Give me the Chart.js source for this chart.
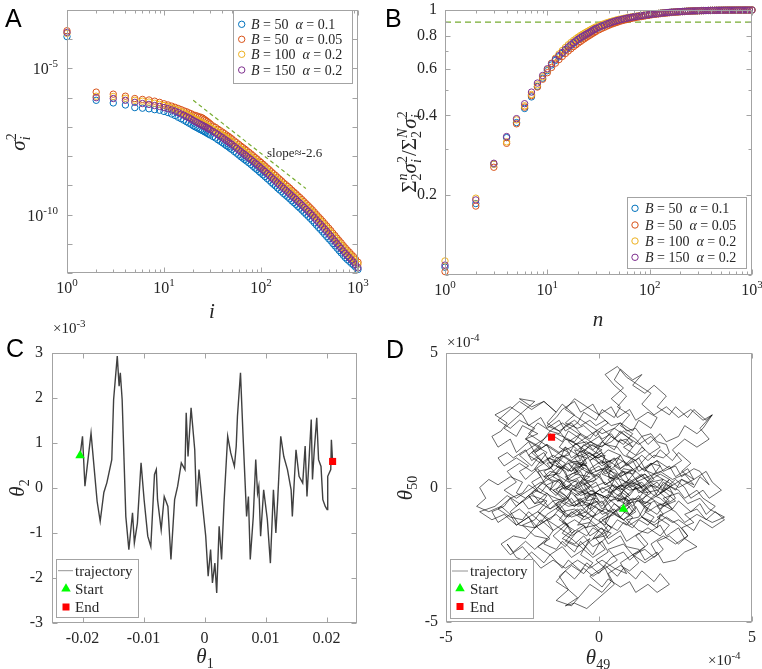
<!DOCTYPE html>
<html><head><meta charset="utf-8">
<script src="https://cdn.jsdelivr.net/npm/chart.js@4.4.1/dist/chart.umd.min.js"></script>
<style>
html,body{margin:0;padding:0;background:#fff;overflow:hidden}
body{width:762px;height:669px;position:relative}
canvas{position:absolute}
</style></head><body>
<canvas id="cA" width="381" height="360" style="left:0;top:-20px"></canvas>
<canvas id="cB" width="395" height="360" style="left:381px;top:-20px"></canvas>
<canvas id="cC" width="381" height="349" style="left:0;top:320px"></canvas>
<canvas id="cD" width="395" height="349" style="left:381px;top:320px"></canvas>
<script>
// ---------------- DATA ----------------
const seriesLabels = [['50','0.1'],['50','0.05'],['100','0.2'],['150','0.2']];
const idx = [1,2,3,4,5,6,7,8,9,10,11,12,13,14,15,16,17,18,19,
20,21,22,23,24,25,26,27,28,29,30,32,34,36,38,40,42,44,46,48,50,53,56,59,62,65,68,71,75,79,83,
87,91,96,100,105,110,116,122,128,134,141,148,155,163,171,180,189,198,208,218,
229,240,252,265,278,292,307,322,338,355,373,392,411,432,453,476,500,525,551,579,
608,638,670,704,739,776,815,856,899,944,1000];
// panel A: log10(sigma_i^2)
const sigBlue = [-3.91,-6.09,-6.18,-6.25,-6.34,-6.36,-6.38,-6.41,-6.43,-6.47,-6.51,-6.56,-6.61,-6.67,-6.72,-6.77,-6.82,-6.87,-6.91,
-6.96,-7.00,-7.03,-7.07,-7.10,-7.13,-7.16,-7.19,-7.22,-7.25,-7.28,-7.33,-7.38,-7.44,-7.49,-7.54,-7.59,-7.64,-7.68,-7.73,-7.77,
-7.84,-7.90,-7.96,-8.02,-8.07,-8.12,-8.17,-8.23,-8.29,-8.35,-8.41,-8.46,-8.53,-8.58,-8.64,-8.70,-8.77,-8.83,-8.90,-8.96,
-9.02,-9.09,-9.15,-9.21,-9.28,-9.34,-9.40,-9.46,-9.53,-9.59,-9.65,-9.72,-9.78,-9.85,-9.92,-9.99,-10.06,-10.13,-10.20,-10.28,
-10.36,-10.44,-10.51,-10.59,-10.67,-10.75,-10.83,-10.90,-10.99,-11.07,-11.15,-11.23,-11.31,-11.39,-11.47,-11.54,-11.60,-11.67,-11.73,-11.80,-11.88];
const sigOrange = [-3.71,-5.81,-5.88,-5.95,-6.03,-6.06,-6.08,-6.12,-6.16,-6.21,-6.25,-6.29,-6.33,-6.37,-6.41,-6.45,-6.48,-6.52,-6.55,
-6.59,-6.61,-6.63,-6.66,-6.67,-6.70,-6.74,-6.78,-6.82,-6.86,-6.90,-6.97,-7.02,-7.08,-7.13,-7.18,-7.23,-7.28,-7.32,-7.37,-7.41,
-7.48,-7.54,-7.60,-7.66,-7.71,-7.76,-7.81,-7.87,-7.93,-7.99,-8.05,-8.10,-8.17,-8.22,-8.28,-8.34,-8.41,-8.47,-8.54,-8.60,
-8.66,-8.73,-8.79,-8.85,-8.92,-8.98,-9.04,-9.10,-9.17,-9.23,-9.29,-9.36,-9.42,-9.49,-9.56,-9.63,-9.70,-9.77,-9.84,-9.92,
-10.00,-10.08,-10.15,-10.23,-10.31,-10.39,-10.47,-10.55,-10.64,-10.72,-10.81,-10.89,-10.97,-11.06,-11.14,-11.22,-11.29,-11.37,-11.44,-11.53,-11.63];
const sigYellow = [-3.80,-5.95,-5.96,-6.02,-6.09,-6.12,-6.15,-6.19,-6.23,-6.27,-6.31,-6.35,-6.39,-6.44,-6.48,-6.52,-6.57,-6.61,-6.65,
-6.70,-6.74,-6.77,-6.81,-6.84,-6.87,-6.90,-6.93,-6.96,-6.99,-7.02,-7.07,-7.12,-7.18,-7.23,-7.28,-7.33,-7.38,-7.42,-7.47,-7.51,
-7.58,-7.64,-7.70,-7.76,-7.81,-7.86,-7.91,-7.97,-8.03,-8.09,-8.15,-8.20,-8.27,-8.32,-8.38,-8.44,-8.51,-8.57,-8.64,-8.70,
-8.76,-8.83,-8.89,-8.95,-9.02,-9.08,-9.14,-9.20,-9.27,-9.33,-9.39,-9.46,-9.52,-9.59,-9.66,-9.73,-9.79,-9.86,-9.93,-10.01,
-10.08,-10.16,-10.23,-10.31,-10.39,-10.47,-10.55,-10.63,-10.72,-10.80,-10.89,-10.97,-11.05,-11.14,-11.22,-11.30,-11.37,-11.45,-11.52,-11.61,-11.70];
const sigPurple = [-3.77,-6.00,-6.03,-6.09,-6.16,-6.20,-6.23,-6.27,-6.30,-6.34,-6.38,-6.42,-6.46,-6.51,-6.56,-6.60,-6.65,-6.69,-6.73,
-6.78,-6.82,-6.85,-6.89,-6.92,-6.95,-6.98,-7.01,-7.04,-7.07,-7.10,-7.16,-7.21,-7.27,-7.32,-7.37,-7.42,-7.47,-7.51,-7.56,-7.60,
-7.67,-7.73,-7.79,-7.85,-7.90,-7.95,-8.00,-8.06,-8.12,-8.18,-8.24,-8.29,-8.36,-8.41,-8.47,-8.53,-8.60,-8.66,-8.73,-8.79,
-8.85,-8.92,-8.98,-9.04,-9.11,-9.17,-9.23,-9.29,-9.36,-9.42,-9.48,-9.55,-9.61,-9.68,-9.75,-9.82,-9.89,-9.96,-10.03,-10.11,
-10.19,-10.27,-10.34,-10.42,-10.50,-10.58,-10.66,-10.74,-10.83,-10.91,-11.00,-11.08,-11.16,-11.25,-11.33,-11.41,-11.48,-11.56,-11.63,-11.72,-11.82];
const slopeI = [20, 290];
const slopeLog = [-6.09, -9.11];
// panel B: cumulative fraction
const cumBlue = [0.107,0.186,0.262,0.330,0.376,0.425,0.470,0.515,0.553,0.590,0.620,0.645,0.666,0.686,0.704,0.720,0.735,0.748,0.760,
0.771,0.781,0.790,0.798,0.806,0.813,0.821,0.829,0.836,0.843,0.849,0.859,0.868,0.875,0.883,0.889,0.895,0.900,0.905,0.910,0.914,
0.919,0.924,0.928,0.932,0.935,0.938,0.941,0.945,0.948,0.951,0.954,0.956,0.959,0.961,0.963,0.966,0.968,0.970,0.972,0.974,
0.976,0.978,0.979,0.981,0.982,0.984,0.985,0.986,0.987,0.988,0.989,0.990,0.991,0.992,0.9925,0.993,0.994,0.9945,0.995,0.9955,
0.996,0.9965,0.997,0.9972,0.9975,0.998,0.9982,0.9985,0.9987,0.999,0.9991,0.9992,0.9993,0.9994,0.9995,0.9996,0.9997,0.9998,0.9999,0.9999,1.0];
const cumOrange = [0.103,0.182,0.255,0.314,0.372,0.430,0.475,0.512,0.548,0.580,0.607,0.630,0.650,0.668,0.685,0.700,0.714,0.727,0.739,
0.750,0.760,0.770,0.779,0.788,0.796,0.803,0.811,0.818,0.825,0.831,0.842,0.852,0.860,0.869,0.876,0.883,0.889,0.894,0.899,0.904,
0.910,0.915,0.920,0.924,0.928,0.932,0.935,0.939,0.942,0.945,0.948,0.951,0.954,0.957,0.960,0.962,0.965,0.967,0.969,0.971,
0.973,0.975,0.977,0.979,0.980,0.982,0.983,0.985,0.986,0.987,0.989,0.990,0.991,0.992,0.9925,0.993,0.994,0.9945,0.995,0.9955,
0.996,0.9965,0.997,0.9972,0.9975,0.998,0.9982,0.9985,0.9987,0.999,0.9991,0.9992,0.9993,0.9994,0.9995,0.9996,0.9997,0.9998,0.9999,0.9999,1.0];
const cumYellow = [0.113,0.195,0.262,0.318,0.385,0.435,0.480,0.522,0.560,0.596,0.630,0.658,0.682,0.703,0.722,0.739,0.754,0.767,0.779,
0.790,0.800,0.809,0.817,0.825,0.832,0.839,0.846,0.852,0.858,0.864,0.873,0.881,0.888,0.895,0.900,0.905,0.910,0.914,0.918,0.922,
0.926,0.930,0.934,0.937,0.940,0.943,0.946,0.949,0.951,0.954,0.956,0.958,0.960,0.962,0.964,0.967,0.969,0.971,0.973,0.975,
0.976,0.978,0.979,0.981,0.982,0.984,0.985,0.986,0.987,0.988,0.989,0.990,0.991,0.992,0.9925,0.993,0.994,0.9945,0.995,0.9955,
0.996,0.9965,0.997,0.9972,0.9975,0.998,0.9982,0.9985,0.9987,0.999,0.9991,0.9992,0.9993,0.9994,0.9995,0.9996,0.9997,0.9998,0.9999,0.9999,1.0];
const cumPurple = [0.109,0.192,0.264,0.333,0.389,0.443,0.490,0.530,0.566,0.600,0.628,0.652,0.673,0.692,0.710,0.726,0.740,0.753,0.765,
0.776,0.786,0.795,0.803,0.811,0.818,0.825,0.833,0.840,0.847,0.853,0.863,0.872,0.878,0.886,0.892,0.898,0.903,0.908,0.912,0.916,
0.921,0.926,0.930,0.934,0.937,0.940,0.943,0.946,0.949,0.952,0.954,0.956,0.959,0.961,0.963,0.966,0.968,0.970,0.972,0.974,
0.976,0.978,0.979,0.981,0.982,0.984,0.985,0.986,0.987,0.988,0.989,0.990,0.991,0.992,0.9925,0.993,0.994,0.9945,0.995,0.9955,
0.996,0.9965,0.997,0.9972,0.9975,0.998,0.9982,0.9985,0.9987,0.999,0.9991,0.9992,0.9993,0.9994,0.9995,0.9996,0.9997,0.9998,0.9999,0.9999,1.0];
const threshold = 0.9;
// panel C: trajectory (theta1, theta2 in units of 1e-3)
const thetaC1 = [-0.0204,-0.0200,-0.0196,-0.0186,-0.0176,-0.0171,-0.0165,-0.0160,-0.0152,-0.0149,-0.0143,-0.0140,-0.0138,-0.0135,-0.0129,-0.0124,-0.0118,-0.0115,-0.0110,-0.0104,-0.0099,-0.0093,-0.0088,-0.0082,-0.0079,-0.0077,-0.0071,-0.0066,-0.0060,-0.0055,-0.0049,-0.0044,-0.0038,-0.0032,-0.0030,-0.0027,-0.0022,-0.0016,-0.0013,-0.0009,-0.0003,0.0002,0.0006,0.0010,0.0013,0.0017,0.0020,0.0024,0.0028,0.0032,0.0038,0.0043,0.0049,0.0052,0.0054,0.0059,0.0063,0.0069,0.0072,0.0075,0.0080,0.0084,0.0087,0.0089,0.0092,0.0097,0.0103,0.0108,0.0113,0.0117,0.0120,0.0125,0.0130,0.0136,0.0142,0.0144,0.0150,0.0155,0.0161,0.0165,0.0168,0.0172,0.0175,0.0177,0.0180,0.0184,0.0187,0.0191,0.0194,0.0198,0.0201,0.0202,0.0207,0.0208,0.0210];
const thetaC2 = [0.72,1.15,0.04,1.22,-0.30,-0.74,-0.10,0.12,0.63,1.96,2.93,2.26,2.56,1.96,-0.63,-1.37,-0.55,-1.22,-0.78,0.56,-0.26,-1.07,-1.30,0.30,0.41,-0.26,-0.93,-0.19,-0.41,-1.59,-0.26,0.04,0.56,0.41,1.67,0.70,1.78,0.85,-0.41,0.41,-0.41,-1.07,-1.96,-1.37,-2.11,-1.67,-2.33,-0.85,-1.59,-0.33,1.15,0.78,0.48,0.93,1.59,2.56,1.22,-0.63,-0.19,-1.59,-0.63,0.63,-0.11,0.04,-1.07,-0.04,-0.70,-1.67,-0.04,-1.00,-0.26,1.15,0.70,0.41,-0.04,-0.63,0.85,0.26,0.11,0.93,-0.19,0.78,1.52,0.19,0.85,1.56,0.63,0.48,-0.26,-0.41,-0.48,0.26,0.41,1.07,0.59];
// panel D: trajectory (theta49, theta50 in units of 1e-5, i.e. tenths of the 1e-4 axis unit)
const thetaD49 = [8,10,7,9,5,3,6,2,4,0,-2,1,-3,-5,-8,-6,-10,-7,-11,-9,
-13,-10,-14,-12,-8,-5,-7,-3,0,-2,2,4,1,5,8,11,9,13,16,14,
18,21,19,23,20,24,21,17,15,12,14,10,7,4,1,-2,-5,-8,-6,-10,
-13,-16,-19,-17,-21,-24,-27,-25,-29,-33,-36,-39,-37,-40,-36,-32,-29,-26,-23,-20,
-17,-14,-11,-9,-12,-8,-5,-2,1,3,-1,2,-2,-5,-8,-11,-14,-10,-7,-11,
-8,-4,-1,2,5,3,7,10,13,11,15,18,21,19,23,26,29,27,31,28,
32,35,38,41,37,33,31,26,24,20,19,14,12,10,5,3,1,-3,-1,-5,
-7,-3,-8,-5,-10,-12,-16,-18,-22,-19,-24,-20,-25,-27,-31,-27,-25,-21,-26,-22,
-18,-14,-12,-8,-11,-7,-5,-1,1,5,7,11,8,12,14,18,20,24,26,30,
27,31,26,23,19,15,13,9,12,8,6,2,0,-4,-6,-3,-7,-11,-13,-16,
-18,-22,-19,-23,-25,-29,-26,-21,-19,-15,-18,-14,-12,-8,-6,-2,0,4,0,-4,
-7,-3,1,3,7,9,13,15,19,21,25,27,31,33,36,33,31,27,25,21,
19,15,13,9,7,3,1,-3,-5,-9,-11,-15,-17,-21,-23,-27,-29,-33,-35,-32,
-30,-34,-29,-25,-23,-19,-17,-13,-11,-7,-5,-1,1,5,7,4,8,5,7,11,
14,11,15,18,22,19,23,25,29,31,35,37,34,32,28,26,22,20,16,14,
11,7,5,1,-1,-5,-7,-11,-13,-17,-14,-18,-20,-24,-26,-23,-27,-31,-33,-30,
-28,-24,-22,-18,-16,-12,-10,-6,-4,0,2,6,8,12,14,18,20,24,26,30,
33,35,38,34,32,28,26,22,20,16,14,10,8,4,2,-2,-4,-8,-10,-14,
-16,-20,-22,-26,-22,-18,-16,-12,-10,-6,-4,0,2,6,8,12,14,18,15,11,
9,5,3,-1,-3,-7,-9,-13,-15,-19,-21,-25,-21,-17,-21,-24,-28,-30,-27,-25,
-22,-18,-16,-12,-10,-6,-4,0,2,6,8,12,14,18,20,23,19,16,12,10,
7,3,1,-3,1,4,8,10,14,16,13,9,7,3,1,-3,-5,-9,-11,-15,
-17,-21,-23,-27,-29,-33,-35,-31,-29,-25,-23,-19,-17,-13,-11,-7,-5,-1,1,5,
7,11,13,17,19,23,25,21,19,15,13,9,13,16,20,22,26,28,32,28,
25,21,19,15,13,9,7,3,1,-3,-5,-9,-11,-15,-11,-8,-4,-2,2,4,
7,3,1,-3,-5,-9,-11,-15,-11,-14,-18,-20,-16,-14,-10,-8,-4,-2,2,4,
7,11,13,17,19,16,12,10,6,4,0,-2,-6,-8,-12,-14,-17,-13,-11,-7,
-5,-1,1,5,7,11,13,17,19,23,25,29,31,35,37,40,36,34,30,28,
25,21,19,15,13,9,7,3,1,-3,-5,-9,-11,-15,-17,-21,-23,-27,-29,-33,
-29,-25,-23,-19,-17,-13,-11,-7,-5,-1,1,5,7,10,
8,11,9,6,4,2,3,0,-2,-4,-3,-6,-8,-10,-9,-12,-14,-16,-15,-18,
-16,-13,-11,-9,-7,-4,-6,-3,-1,2,1,4,3,6,8,11,13,15,17,20,
18,21,19,16,14,12,10,8,6,3,1,-1,-4,-5,-8,-7,-10,-11,-14,-12,
-10,-13,-11,-8,-6,-3,-1,1,4,6,9,11,9,12,14,16,18,21,23,22,
19,17,14,12,9,7,4,2,-1,-3,-6,-8,-11,-13,-16,-18,-20,-17,-19,-21,
-19,-22,-20,-23,-21,-18,-16,-13,-11,-13,-10,-12,-9,-7,-4,-2,1,3,6,8,
11,13,16,18,15,17,14,16,13,11,9,7,5,2,0,-2,-5,-3,-6,-4,
-7,-9,-12,-14,-17,-15,-18,-16,-13,-11,-9,-6,-4,-1,1,4,6,9,11,13,
15,18,20,22,24,21,23,20,17,15,12,10,7,5,2,0,-3,-5,-8,-10,
-13,-15,-12,-14,-11,-9,-6,-4,-1,1,3,5,8,10,12,11,9,8,6,7,
6,10,7,3,5,1,4,-1,-3,1,-2,-6,-4,-8,-5,-9,-6,-2,0,
-4,-1,-5,-9,-12,-8,-11,-7,-3,-6,-2,-5,-9,-13,-10,-14,-9,-6,-3,1,
4,2,6,3,8,11,15,12,16,20,23,19,24,21,26,29,33,36,41,37,
32,28,25,20,16,13,17,14,10,7,11,8,4,1,-3,-1,-5,-3,-7,-4,
-9,-13,-16,-20,-17,-22,-26,-30,-34,-39,-35,-31,-27,-23,-20,-16,-20,-16,-12,-9,
-5,-2,2,-1,3,0,4,8,12,9,5,2,-2,-6,-10,-14,-11,-15,-19,-23,
-20,-24,-21,-26,-29,-33,-29,-26,-22,-18,-14,-17,-13,-9,-6,-10,-7,-3,1,4,
8,11,7,10,6,9,5,2,6,9,13,17,14,18,22,26,30,34,37,33,
36,32,28,24,27,23,19,15,18,14,10,6,3,-1,-4,-8,-12,-9,-5,-8,
-4,0,3,7,5,9,13,16,20,17,13,9,5,1,-3,-7,-11,-8,-4,0,
3,-1,-5,-9,-13,-17,-21,-18,-22,-26,-30,-27,-31,-27,-23,-19,-15,-11,-14,-10,
-6,-2,2,6,10,14,18,22,26,29,25,21,17,19,15,11,7,9,5,1,
-3,-7,-11,-15,-19,-22,-25,-29,-32,-28,-24,-21,-17,-13,-9,-5,-1,3,7,11,
15,19,23,27,31,28,24,20,16,12,8,4,0,-4,-8,-12,-16,-20,-17,-13,
-9,-5,-1,3,7,11,15,12,8,4,0,-4,-8,-12,-16,-20,-23,-19,-15,-11,
-7,-3,1,5,9,13,17,21,25,22,18,14,10,6,2,-2,-6,-10,-14,-15.5];
const thetaD50 = [-8,-5,-3,1,0,3,5,7,10,9,12,14,16,13,14,10,9,6,4,1,
-1,-4,-6,-9,-8,-11,-14,-13,-16,-19,-18,-15,-12,-10,-12,-9,-6,-5,-8,-11,
-13,-10,-7,-5,-2,1,3,2,5,3,0,-1,1,-2,0,-3,-1,-3,-6,-7,
-5,-8,-6,-3,-1,-4,-2,2,4,1,3,0,-4,-7,-9,-7,-10,-8,-11,-9,
-12,-10,-13,-16,-19,-21,-18,-22,-20,-24,-27,-30,-33,-30,-34,-31,-35,-38,-41,-44,
-43,-45,-42,-39,-36,-32,-29,-31,-28,-25,-23,-26,-23,-20,-18,-21,-18,-15,-13,-10,
-8,-12,-9,-12,-15,-12,-16,-12,-13,-10,-15,-11,-7,-10,-6,-9,-5,-8,-3,-2,
1,4,5,9,10,7,11,9,13,15,18,20,23,19,22,26,28,32,33,30,
32,28,31,27,24,22,23,19,22,18,21,17,15,12,15,11,14,10,13,9,
6,3,0,3,-1,-2,1,2,6,7,4,8,4,6,2,0,-3,0,3,-1,
2,-2,-6,-8,-5,-9,-14,-15,-12,-16,-21,-23,-20,-24,-20,-25,-21,-17,-15,-11,
-10,-6,-9,-5,-4,-7,-3,-6,-2,2,-1,3,0,4,1,6,7,4,8,6,
10,7,11,8,12,8,13,10,14,11,15,11,16,13,17,13,18,15,19,21,
24,27,30,27,23,26,22,25,21,24,28,25,29,26,30,33,37,40,44,40,
42,38,35,38,34,30,27,30,26,29,25,27,22,20,23,19,17,20,16,19,
15,18,14,17,13,16,12,15,10,9,5,4,7,3,6,8,11,8,11,13,
11,14,10,13,9,7,3,6,2,5,1,4,0,3,1,-3,-4,-8,-5,-9,
-6,-10,-7,-4,-1,-4,-1,1,-2,2,5,2,6,3,7,4,8,9,6,10,
7,11,8,12,15,18,20,17,21,18,16,19,16,15,12,10,7,5,1,-1,
-3,0,-4,-2,-6,-7,-4,-8,-5,-9,-12,-14,-18,-19,-23,-20,-24,-21,-26,-27,
-24,-28,-25,-30,-27,-31,-28,-32,-29,-33,-30,-34,-31,-35,-32,-36,-39,-36,-39,-35,
-37,-34,-37,-33,-30,-26,-24,-27,-23,-21,-17,-20,-16,-19,-15,-18,-14,-17,-13,-16,
-12,-15,-11,-14,-10,-13,-9,-7,-4,-2,1,-2,1,3,0,3,-1,2,-2,1,
-1,2,-2,1,-3,0,-4,-7,-10,-7,-11,-12,-16,-17,-14,-18,-15,-19,-22,-24,
-27,-28,-24,-27,-23,-22,-18,-21,-17,-20,-23,-19,-22,-18,-14,-12,-15,-11,-14,-10,
-8,-4,-7,-3,-6,-2,-5,-1,1,5,2,6,7,11,12,16,17,14,18,21,
24,21,25,22,26,28,25,29,26,30,27,31,28,32,29,26,23,21,18,16,
13,10,8,11,7,10,6,9,5,8,4,7,3,6,2,-1,-4,-1,-4,0,
3,-1,2,-1,-4,-5,-2,-6,-3,-1,2,-1,-4,-5,-2,-6,-3,-7,-4,-8,
-11,-12,-9,-13,-10,-7,-11,-8,-11,-7,-10,-8,-11,-7,
-9,-11,-14,-12,-15,-13,-10,-8,-11,-9,-6,-5,-7,-4,-1,0,-3,-1,2,4,
6,5,8,6,9,8,11,13,11,12,9,7,4,3,6,5,8,6,9,8,
5,3,0,1,-2,0,-3,-1,-4,-3,-6,-4,-5,-2,-1,2,3,6,8,11,
13,15,18,17,20,18,21,18,20,17,18,15,12,10,12,10,12,11,13,16,
17,20,19,22,21,24,23,25,23,25,23,25,23,20,21,18,15,13,10,7,
4,2,-1,-3,-6,-5,-8,-6,-9,-12,-14,-17,-19,-16,-18,-15,-17,-14,-16,-13,
-15,-12,-14,-11,-9,-6,-5,-2,1,-1,2,0,3,1,4,2,3,6,8,11,
12,10,12,10,11,8,6,3,2,-1,1,-1,-3,-2,-4,-2,-5,-4,-7,-4,
-7,-5,-8,-5,-2,0,3,5,3,5,3,6,4,7,5,8,6,9,6,9,
7,4,2,-1,-3,-6,-4,-7,-5,-8,-6,-9,-7,-10,-8,-5,-3,-6,-4,-5,
-5,-3,0,-2,3,5,8,6,10,13,16,13,9,7,3,0,-3,-1,-5,
-7,-10,-12,-9,-13,-16,-20,-22,-19,-25,-28,-32,-29,-33,-38,-42,-44,-40,-36,-39,
-35,-30,-27,-23,-21,-25,-22,-18,-15,-18,-14,-11,-8,-4,-2,-6,-4,-8,-11,-13,
-10,-13,-9,-6,-9,-5,-2,2,0,4,7,10,7,10,7,3,1,-3,-5,-9,
-11,-8,-12,-9,-5,-3,-6,-3,-7,-9,-12,-10,-14,-11,-15,-19,-22,-25,-22,-26,
-23,-26,-23,-19,-16,-12,-9,-12,-9,-5,-2,2,0,4,2,5,9,12,9,12,
15,18,22,25,22,25,29,32,29,32,28,24,21,24,20,17,14,17,15,19,
16,20,23,27,30,34,38,42,45,41,38,35,31,27,30,26,29,25,27,22,
18,15,18,14,10,7,10,7,3,0,3,0,-4,-2,2,-1,1,5,7,11,
13,11,14,12,8,5,8,12,15,19,16,19,22,20,23,26,29,33,30,27,
24,21,18,15,13,16,13,9,6,9,6,2,-1,-4,-1,2,-1,-4,-8,-11,
-8,-11,-8,-10,-14,-11,-14,-11,-14,-18,-21,-18,-21,-25,-28,-25,-28,-32,-30,-27,
-30,-27,-30,-27,-30,-26,-22,-25,-21,-18,-19,-15,-12,-15,-18,-15,-14,-11,-7,-4,
-6,-3,0,3,1,5,3,6,4,2,-1,1,-1,-4,-7,-5,-3,0,4,8,
6,10,13,10,7,11,14,18,21,17,15,18,21,24,21,24,20,17,14,11,
8,5,7,4,2,-1,-4,-7,-5,-2,1,4,8,11,9,12,15,18,20,18.7];
const logDecades = [1,10,100,1000];
const logMinorX = [1,2,3,4,5,6,7,8,9,10,20,30,40,50,60,70,80,90,100,200,300,400,500,600,700,800,900,1000];
const yTicksA = [1e-12,1e-11,1e-10,1e-9,1e-8,1e-7,1e-6,1e-5,1e-4,1e-3];
const yLabelsA = [1e-5,1e-10];
const yTicksB = [0.1,0.2,0.3,0.4,0.5,0.6,0.7,0.8,0.9,1];
const yLabelsB = [0.2,0.4,0.6,0.8,1];
const xTicksC = [-0.02,-0.01,0,0.01,0.02];
const yTicksC = [-3,-2,-1,0,1,2,3];
const ticksD = [-5,0,5];

// ---------------- STYLE ----------------
const COLORS = ['#0072BD','#D95319','#EDB120','#7E2F8E'];
const GREEN = '#77AC30';
const SERIF = '"Liberation Serif","Times New Roman",serif';
const SANS = '"Liberation Sans",Arial,sans-serif';
const BOX = '#a3a3a3';
const TXT = '#262626';

function fontStr(s, it){ return (it?'italic ':'') + s + 'px ' + SERIF; }
function rich(ctx, segs, x, y, align){
  const widths = segs.map(g=>{
    const list = g.stack || [g];
    let m = 0;
    list.forEach(h=>{ ctx.font = h.f || fontStr(h.s, h.it); m = Math.max(m, ctx.measureText(h.t).width); });
    return m + (g.gap||0);
  });
  const w = widths.reduce((a,b)=>a+b,0);
  let cx = align==='center' ? x - w/2 : align==='right' ? x - w : x;
  ctx.textAlign='left'; ctx.textBaseline='alphabetic';
  segs.forEach((g,i)=>{
    (g.stack || [g]).forEach(h=>{ ctx.font = h.f || fontStr(h.s, h.it); ctx.fillText(h.t, cx, y + (h.dy||0)); });
    cx += widths[i];
  });
}
function expOf(v){ return String(Math.round(Math.log10(v))); }
function near(list, v){ return list.some(u=>Math.abs(u-v)/Math.abs(u||1) < 1e-6); }

const deco = {
  id:'deco',
  afterDraw(chart, args, o){
    const ctx = chart.ctx, a = chart.chartArea;
    ctx.save();
    const L = Math.round(a.left)+0.5, R = Math.round(a.right)-0.5, T = Math.round(a.top)+0.5, B = Math.round(a.bottom)-0.5;
    ctx.strokeStyle = BOX; ctx.lineWidth = 1;
    ctx.strokeRect(L, T, R-L, B-T);
    const xs = chart.scales.x, ys = chart.scales.y;
    const majX = o.majX || (t=>!!t.label), majY = o.majY || (t=>!!t.label);
    ctx.beginPath();
    xs.ticks.forEach(t=>{
      const p = Math.round(xs.getPixelForValue(t.value))+0.5;
      const len = majX(t) ? 5 : 3;
      ctx.moveTo(p,B); ctx.lineTo(p,B-len); ctx.moveTo(p,T); ctx.lineTo(p,T+len);
    });
    ys.ticks.forEach(t=>{
      const p = Math.round(ys.getPixelForValue(t.value))+0.5;
      const len = majY(t) ? 5 : 3;
      ctx.moveTo(L,p); ctx.lineTo(L+len,p); ctx.moveTo(R,p); ctx.lineTo(R-len,p);
    });
    ctx.stroke();
    ctx.fillStyle = TXT;
    (o.xLogLabels||[]).forEach(v=>{
      rich(ctx, [{t:'10',s:16},{t:expOf(v),s:11,dy:-7}], xs.getPixelForValue(v), a.bottom+20, 'center');
    });
    (o.yLogLabels||[]).forEach(v=>{
      rich(ctx, [{t:'10',s:16},{t:expOf(v),s:11,dy:-7}], a.left-9, ys.getPixelForValue(v)+6, 'right');
    });
    (o.texts||[]).forEach(tx=>{
      ctx.save(); ctx.fillStyle = tx.color || TXT; ctx.translate(tx.x, tx.y);
      if (tx.rot) ctx.rotate(tx.rot);
      rich(ctx, tx.segs, 0, 0, tx.align||'left');
      ctx.restore();
    });
    if (o.legend){
      const lg = o.legend, b = lg.box;
      ctx.fillStyle = '#fff'; ctx.fillRect(b[0], b[1], b[2]-b[0], b[3]-b[1]);
      ctx.strokeStyle = BOX; ctx.lineWidth = 1;
      ctx.strokeRect(b[0]+0.5, b[1]+0.5, b[2]-b[0], b[3]-b[1]);
      lg.rows.forEach(r=>{
        const m = r.marker;
        if (m.type==='circle'){ ctx.beginPath(); ctx.strokeStyle=m.color; ctx.lineWidth=1; ctx.arc(lg.mx, r.y, 3.2, 0, Math.PI*2); ctx.stroke(); }
        if (m.type==='line'){ ctx.beginPath(); ctx.strokeStyle=m.color; ctx.lineWidth=0.8; ctx.moveTo(m.x1, r.y); ctx.lineTo(m.x2, r.y); ctx.stroke(); }
        if (m.type==='triangle'){ const rr=5.5; ctx.beginPath(); ctx.fillStyle=m.color;
          for(let k=0;k<3;k++){ const ang = k*2*Math.PI/3; const px = lg.mx + Math.sin(ang)*rr, py = r.y - Math.cos(ang)*rr; if(k===0) ctx.moveTo(px,py); else ctx.lineTo(px,py); }
          ctx.closePath(); ctx.fill(); }
        if (m.type==='square'){ ctx.fillStyle=m.color; ctx.fillRect(lg.mx-3.5, r.y-3.5, 7, 7); }
        ctx.fillStyle = TXT;
        rich(ctx, r.segs, lg.tx, r.y + lg.dy, 'left');
      });
    }
    ctx.restore();
  }
};
Chart.register(deco);

function baseScale(area, isX, extra){
  return Object.assign({
    grid:{display:false, drawTicks:false},
    border:{display:false},
    afterFit: isX ? (sc)=>{ sc.height = 40; } : (sc)=>{ sc.width = area.l; }
  }, extra);
}
function layoutFor(area, cw, ch){
  return {autoPadding:false, padding:{left:0, top:area.t, right:cw-area.r, bottom:ch-area.b-40}};
}
const common = {responsive:false, animation:false, devicePixelRatio:1, events:[]};
const basePlugins = {legend:{display:false}, tooltip:{enabled:false}};

function legendRowsAB(ry){
  return seriesLabels.map((p,k)=>({y:ry[k], marker:{type:'circle', color:COLORS[k]},
    segs:[{t:'B',s:14,it:true},{t:' = '+p[0]+'  ',s:14},{t:'α',s:14,it:true},{t:' = '+p[1],s:14}]}));
}
const sigmaTitle = [{t:'σ',s:21,it:true},{stack:[{t:'2',s:14,dy:-9},{t:'i',s:14,it:true,dy:5}]}];
const hiddenTicks = {display:false, autoSkip:false};

// ---------------- PANEL A ----------------
(function(){
  const area = {l:67,t:30,r:358,b:293}, cw=381, ch=360;
  const series = [sigBlue, sigOrange, sigYellow, sigPurple];
  const ds = series.map((arr,k)=>({
    data: idx.map((v,j)=>({x:v, y:Math.pow(10, arr[j])})),
    showLine:false, borderColor:COLORS[k], backgroundColor:'rgba(0,0,0,0)',
    pointRadius:3.2, pointBorderWidth:1, clip:false, order:3-k
  }));
  ds.push({data: slopeI.map((v,j)=>({x:v, y:Math.pow(10, slopeLog[j])})), showLine:true, pointRadius:0,
    borderColor:GREEN, borderWidth:1.2, borderDash:[4,3], order:10});
  new Chart(document.getElementById('cA'), {type:'scatter', data:{datasets:ds},
    options:Object.assign({}, common, {
      layout: layoutFor(area,cw,ch),
      scales:{
        x: baseScale(area, true, {type:'logarithmic', min:1, max:1000, ticks:hiddenTicks,
          afterBuildTicks:(s)=>{ s.ticks = logMinorX.map(v=>({value:v})); }}),
        y: baseScale(area, false, {type:'logarithmic', min:1e-12, max:1e-3, ticks:hiddenTicks,
          afterBuildTicks:(s)=>{ s.ticks = yTicksA.map(v=>({value:v})); }})
      },
      plugins:Object.assign({}, basePlugins, {deco:{
        majX:(t)=>near(logDecades, t.value), majY:()=>true,
        xLogLabels: logDecades, yLogLabels: yLabelsA,
        texts:[
          {segs:[{t:'A', f:'25px '+SANS}], x:5, y:47, color:'#000'},
          {segs:[{t:'i',s:21,it:true}], x:212, y:338, align:'center'},
          {segs:sigmaTitle, x:25, y:162, align:'center', rot:-Math.PI/2},
          {segs:[{t:'slope≈-2.6',s:13}], x:267, y:177}
        ],
        legend:{box:[233,30,352,103], mx:241.7, tx:251, dy:4.8, rows:legendRowsAB([44.3,59.3,74.3,90])}
      }})
    })});
})();

// ---------------- PANEL B ----------------
(function(){
  const area = {l:64,t:30,r:371,b:295}, cw=395, ch=360;
  const series = [cumBlue, cumOrange, cumYellow, cumPurple];
  const ds = series.map((arr,k)=>({
    data: idx.map((v,j)=>({x:v, y:arr[j]})),
    showLine:false, borderColor:COLORS[k], backgroundColor:'rgba(0,0,0,0)',
    pointRadius:3.2, pointBorderWidth:1, clip:false, order:3-k
  }));
  ds.push({data:[{x:1,y:threshold},{x:1000,y:threshold}], showLine:true, pointRadius:0,
    borderColor:GREEN, borderWidth:1.2, borderDash:[6,4], order:10});
  new Chart(document.getElementById('cB'), {type:'scatter', data:{datasets:ds},
    options:Object.assign({}, common, {
      layout: layoutFor(area,cw,ch),
      scales:{
        x: baseScale(area, true, {type:'logarithmic', min:1, max:1000, ticks:hiddenTicks,
          afterBuildTicks:(s)=>{ s.ticks = logMinorX.map(v=>({value:v})); }}),
        y: baseScale(area, false, {type:'logarithmic', min:0.1, max:1,
          afterBuildTicks:(s)=>{ s.ticks = yTicksB.map(v=>({value:v})); },
          ticks:{font:{family:SERIF,size:16}, color:TXT, autoSkip:false, padding:8,
            callback:(v)=>{ const r = Math.round(v*10)/10; return yLabelsB.includes(r) ? String(r) : ''; }}})
      },
      plugins:Object.assign({}, basePlugins, {deco:{
        majX:(t)=>near(logDecades, t.value),
        xLogLabels: logDecades,
        texts:[
          {segs:[{t:'B', f:'25px '+SANS}], x:4, y:47, color:'#000'},
          {segs:[{t:'n',s:21,it:true}], x:217, y:346, align:'center'},
          {segs:[{t:'Σ',s:21},{stack:[{t:'n',s:14,it:true,dy:-9},{t:'2',s:14,dy:5}]},{t:'σ',s:21,it:true},{stack:[{t:'2',s:14,dy:-9},{t:'i',s:14,it:true,dy:5}]},
                 {t:'/',s:21},{t:'Σ',s:21},{stack:[{t:'N',s:14,it:true,dy:-9},{t:'2',s:14,dy:5}]},{t:'σ',s:21,it:true},{stack:[{t:'2',s:14,dy:-9},{t:'i',s:14,it:true,dy:5}]}],
           x:35, y:172, align:'center', rot:-Math.PI/2}
        ],
        legend:{box:[246,217,365,288], mx:254, tx:264, dy:4.8, rows:legendRowsAB([228.3,245,261,277.3])}
      }})
    })});
})();

// ---------------- PANEL C ----------------
(function(){
  const area = {l:52,t:33,r:357,b:303}, cw=381, ch=349;
  const n = thetaC1.length;
  const ds = [
    {data:[{x:thetaC1[0], y:thetaC2[0]}], pointStyle:'triangle', pointRadius:5.5, backgroundColor:'#00ff00', borderColor:'#00ff00', borderWidth:0, order:0},
    {data:[{x:thetaC1[n-1], y:thetaC2[n-1]}], pointStyle:'rect', pointRadius:5, backgroundColor:'#ff0000', borderColor:'#ff0000', borderWidth:0, order:1},
    {data:thetaC1.map((v,j)=>({x:v, y:thetaC2[j]})), showLine:true, pointRadius:0, borderColor:'rgba(30,30,30,0.85)', borderWidth:1.4, order:2}
  ];
  new Chart(document.getElementById('cC'), {type:'scatter', data:{datasets:ds},
    options:Object.assign({}, common, {
      layout: layoutFor(area,cw,ch),
      scales:{
        x: baseScale(area, true, {type:'linear', min:-0.025, max:0.025,
          afterBuildTicks:(s)=>{ s.ticks = xTicksC.map(v=>({value:v})); },
          ticks:{font:{family:SERIF,size:16}, color:TXT, autoSkip:false, maxRotation:0, padding:6,
            callback:(v)=> v===0 ? '0' : v.toFixed(2)}}),
        y: baseScale(area, false, {type:'linear', min:-3, max:3,
          afterBuildTicks:(s)=>{ s.ticks = yTicksC.map(v=>({value:v})); },
          ticks:{font:{family:SERIF,size:16}, color:TXT, autoSkip:false, padding:9,
            callback:(v)=> String(v)}})
      },
      plugins:Object.assign({}, basePlugins, {deco:{
        texts:[
          {segs:[{t:'C', f:'25px '+SANS}], x:6, y:37, color:'#000'},
          {segs:[{t:'×10',s:15},{t:'-3',s:11,dy:-6}], x:53, y:13},
          {segs:[{t:'θ',s:21,it:true},{t:'1',s:14,dy:5}], x:205, y:343, align:'center'},
          {segs:[{t:'θ',s:21,it:true},{t:'2',s:14,dy:5}], x:24, y:168, align:'center', rot:-Math.PI/2}
        ],
        legend:{box:[56,239,138,297], mx:66, tx:75, dy:5, rows:[
          {y:250.7, marker:{type:'line', color:'#777', x1:58, x2:73}, segs:[{t:'trajectory',s:15}]},
          {y:268.7, marker:{type:'triangle', color:'#00ff00'}, segs:[{t:'Start',s:15}]},
          {y:287, marker:{type:'square', color:'#ff0000'}, segs:[{t:'End',s:15}]}
        ]}
      }})
    })});
})();

// ---------------- PANEL D ----------------
(function(){
  const area = {l:65,t:33,r:371,b:302}, cw=395, ch=349;
  const n = thetaD49.length;
  const pts = thetaD49.map((v,j)=>({x:v/10, y:thetaD50[j]/10}));
  const ds = [
    {data:[pts[0]], pointStyle:'triangle', pointRadius:5.5, backgroundColor:'#00ff00', borderColor:'#00ff00', borderWidth:0, order:0},
    {data:[pts[n-1]], pointStyle:'rect', pointRadius:5, backgroundColor:'#ff0000', borderColor:'#ff0000', borderWidth:0, order:1},
    {data:pts, showLine:true, pointRadius:0, borderColor:'rgba(0,0,0,0.85)', borderWidth:0.7, order:2}
  ];
  new Chart(document.getElementById('cD'), {type:'scatter', data:{datasets:ds},
    options:Object.assign({}, common, {
      layout: layoutFor(area,cw,ch),
      scales:{
        x: baseScale(area, true, {type:'linear', min:-5, max:5,
          afterBuildTicks:(s)=>{ s.ticks = ticksD.map(v=>({value:v})); },
          ticks:{font:{family:SERIF,size:16}, color:TXT, autoSkip:false, maxRotation:0, padding:6,
            callback:(v)=> String(v)}}),
        y: baseScale(area, false, {type:'linear', min:-5, max:5,
          afterBuildTicks:(s)=>{ s.ticks = ticksD.map(v=>({value:v})); },
          ticks:{font:{family:SERIF,size:16}, color:TXT, autoSkip:false, padding:8,
            callback:(v)=> String(v)}})
      },
      plugins:Object.assign({}, basePlugins, {deco:{
        texts:[
          {segs:[{t:'D', f:'25px '+SANS}], x:5, y:38, color:'#000'},
          {segs:[{t:'×10',s:15},{t:'-4',s:11,dy:-6}], x:66, y:27},
          {segs:[{t:'×10',s:15},{t:'-4',s:11,dy:-6}], x:327, y:345},
          {segs:[{t:'θ',s:21,it:true},{t:'49',s:14,dy:5}], x:217, y:344, align:'center'},
          {segs:[{t:'θ',s:21,it:true},{t:'50',s:14,dy:5}], x:31, y:168, align:'center', rot:-Math.PI/2}
        ],
        legend:{box:[69,239,152,298], mx:79, tx:89, dy:5, rows:[
          {y:251, marker:{type:'line', color:'#777', x1:71, x2:87}, segs:[{t:'trajectory',s:15}]},
          {y:268.5, marker:{type:'triangle', color:'#00ff00'}, segs:[{t:'Start',s:15}]},
          {y:286.5, marker:{type:'square', color:'#ff0000'}, segs:[{t:'End',s:15}]}
        ]}
      }})
    })});
})();
</script>
</body></html>
